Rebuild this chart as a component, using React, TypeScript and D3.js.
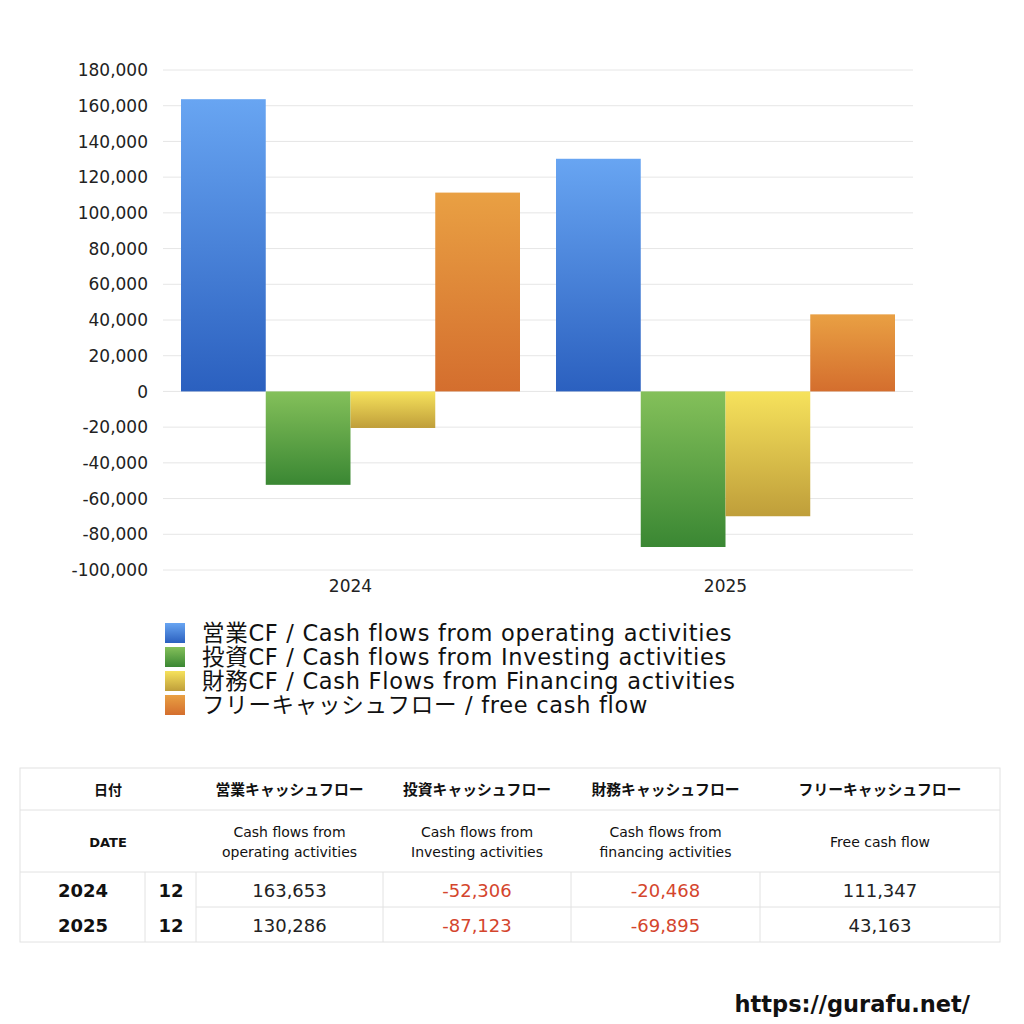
import React from "react";
import * as d3 from "d3";

const years = ["2024", "2025"];
const months = ["12", "12"];
const seriesKeys = ["op", "inv", "fin", "free"];
const seriesLegend = [
  "営業CF / Cash flows from operating activities",
  "投資CF / Cash flows from Investing activities",
  "財務CF / Cash Flows from Financing activities",
  "フリーキャッシュフロー / free cash flow",
];
const operating = [163653, 130286];
const investing = [-52306, -87123];
const financing = [-20468, -69895];
const freeCF = [111347, 43163];
const yTicks = [180000, 160000, 140000, 120000, 100000, 80000, 60000, 40000, 20000, 0, -20000, -40000, -60000, -80000, -100000];
const headerJa = ["営業キャッシュフロー", "投資キャッシュフロー", "財務キャッシュフロー", "フリーキャッシュフロー"];
const headerEn = [
  ["Cash flows from", "operating activities"],
  ["Cash flows from", "Investing activities"],
  ["Cash flows from", "financing activities"],
  ["Free cash flow"],
];
const gradTop = ["#68a5f2", "#84c05a", "#f6e25c", "#e9a043"];
const gradBot = ["#2b60bf", "#3a8733", "#bf9e3a", "#d46e2e"];

const FONT = "'DejaVu Sans', 'Noto Sans CJK JP', sans-serif";

export default function App() {
  const values = [operating, investing, financing, freeCF];
  const y = d3.scaleLinear().domain([-100000, 180000]).range([570, 70]);
  const x0 = d3.scaleBand<string>().domain(years).range([163, 913]);
  const bw = x0.bandwidth();
  const x1 = d3.scaleBand<string>().domain(seriesKeys).range([bw * 0.048, bw * 0.952]);
  const fmt = (v: number) => d3.format(",")(v).replace("\u2212", "-");

  const colX = [20, 145, 196, 383, 571, 760, 1000];
  const rowY = [768, 810, 872, 907, 942];
  const border = "#e2e2e2";

  return (
    <svg width={1024} height={1024} style={{ position: "absolute", left: 0, top: 0, fontFamily: FONT }}>
      <rect width={1024} height={1024} fill="#fff" />
      <defs>
        {seriesKeys.map((k, i) => (
          <linearGradient key={k} id={"g" + k} x1="0" y1="0" x2="0" y2="1">
            <stop offset="0" stopColor={gradTop[i]} />
            <stop offset="1" stopColor={gradBot[i]} />
          </linearGradient>
        ))}
      </defs>
      {yTicks.map((t) => (
        <g key={t}>
          <line x1={163} x2={913} y1={y(t)} y2={y(t)} stroke="#e6e6e6" strokeWidth={1} />
          <text x={148} y={y(t)} dy="0.36em" textAnchor="end" fontSize={17} fill="#222">
            {fmt(t)}
          </text>
        </g>
      ))}
      {years.map((yr, yi) => (
        <g key={yr} transform={`translate(${x0(yr)},0)`}>
          {seriesKeys.map((k, si) => {
            const v = values[si][yi];
            const top = y(Math.max(0, v));
            const h = Math.abs(y(v) - y(0));
            return <rect key={k} x={x1(k)} y={top} width={x1.bandwidth()} height={h} fill={`url(#g${k})`} />;
          })}
          <text x={bw / 2} y={592} textAnchor="middle" fontSize={17} fill="#222">
            {yr}
          </text>
        </g>
      ))}
      {seriesLegend.map((s, i) => (
        <g key={s} transform={`translate(165,${623 + i * 24})`}>
          <rect width={20} height={20} fill={`url(#g${seriesKeys[i]})`} />
          <text x={37} y={18} fontSize={22.5} letterSpacing={0.7} fill="#111">
            {s}
          </text>
        </g>
      ))}

      {/* table */}
      <rect x={20} y={768} width={980} height={174} fill="none" stroke={border} />
      <line x1={20} x2={1000} y1={rowY[1]} y2={rowY[1]} stroke={border} />
      <line x1={20} x2={1000} y1={rowY[2]} y2={rowY[2]} stroke={border} />
      <line x1={196} x2={1000} y1={rowY[3]} y2={rowY[3]} stroke={border} />
      {colX.slice(1, 6).map((cx) => (
        <line key={cx} x1={cx} x2={cx} y1={rowY[2]} y2={rowY[4]} stroke={border} />
      ))}
      <text x={108} y={795} textAnchor="middle" fontSize={14} fontWeight="bold" fill="#111">日付</text>
      <text x={108} y={847} textAnchor="middle" fontSize={13} fontWeight="bold" fill="#111">DATE</text>
      {headerJa.map((h, i) => {
        const cx = (colX[i + 2] + colX[i + 3]) / 2;
        const en = headerEn[i];
        return (
          <g key={h}>
            <text x={cx} y={795} textAnchor="middle" fontSize={14.8} fontWeight="bold" fill="#111">{h}</text>
            {en.map((line, li) => (
              <text key={li} x={cx} y={en.length === 1 ? 847 : 837 + li * 20} textAnchor="middle" fontSize={14} fill="#111">
                {line}
              </text>
            ))}
          </g>
        );
      })}
      {years.map((yr, yi) => {
        const cy = (rowY[2 + yi] + rowY[3 + yi]) / 2 + 7;
        return (
          <g key={yr}>
            <text x={83} y={cy} textAnchor="middle" fontSize={18} fontWeight="bold" fill="#111">{yr}</text>
            <text x={171} y={cy} textAnchor="middle" fontSize={18} fontWeight="bold" fill="#111">{months[yi]}</text>
            {seriesKeys.map((k, si) => {
              const v = values[si][yi];
              const cx = (colX[si + 2] + colX[si + 3]) / 2;
              return (
                <text key={k} x={cx} y={cy} textAnchor="middle" fontSize={18} fill={v < 0 ? "#d4452d" : "#222"}>
                  {fmt(v)}
                </text>
              );
            })}
          </g>
        );
      })}
      <text x={970} y={1012} textAnchor="end" fontSize={22.5} fontWeight="bold" fill="#111">https://gurafu.net/</text>
    </svg>
  );
}
